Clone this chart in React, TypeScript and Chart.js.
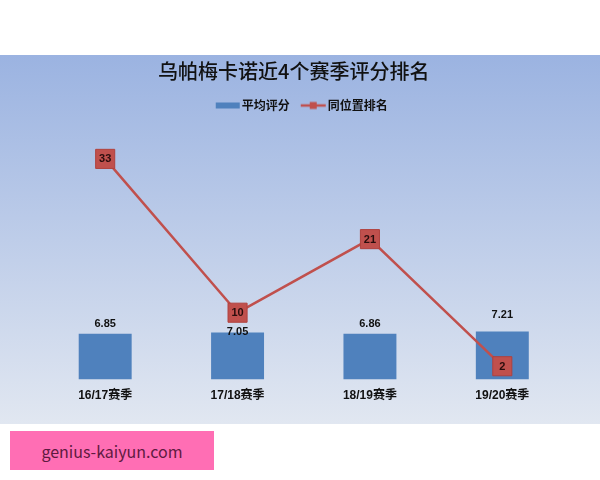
import { useEffect, useRef } from 'react';
import { Chart, registerables } from 'chart.js';

Chart.register(...registerables);

const seasons = ['16/17赛季', '17/18赛季', '18/19赛季', '19/20赛季'];
const avgRatings = [6.85, 7.05, 6.86, 7.21];
const positionRanks = [33, 10, 21, 2];
const seriesNames = ['平均评分', '同位置排名'];

const BAR_BLUE = '#4f81bd';
const LINE_RED = '#c0504d';
const LABEL_FONT = 'bold 11px "Liberation Sans", "Noto Sans CJK SC", sans-serif';

// how far above the bar top each rating label sits (the 2nd one was pushed down by the marker)
const barLabelLift = [10, 0, 10, 16];

function makeIcon(kind: 'bar' | 'line') {
  const c = document.createElement('canvas');
  c.width = 28;
  c.height = 12;
  const ctx = c.getContext('2d')!;
  if (kind === 'bar') {
    ctx.fillStyle = BAR_BLUE;
    ctx.fillRect(2, 3, 24, 6);
  } else {
    ctx.strokeStyle = LINE_RED;
    ctx.lineWidth = 2.5;
    ctx.beginPath();
    ctx.moveTo(1, 6);
    ctx.lineTo(26, 6);
    ctx.stroke();
    ctx.fillStyle = LINE_RED;
    ctx.fillRect(10, 2.5, 7, 7);
  }
  return c;
}

const valueLabels = {
  id: 'valueLabels',
  afterDatasetsDraw(chart: any) {
    const ctx = chart.ctx;
    ctx.save();
    ctx.textAlign = 'center';
    ctx.textBaseline = 'middle';
    ctx.font = LABEL_FONT;
    chart.data.datasets.forEach((ds: any, di: number) => {
      const meta = chart.getDatasetMeta(di);
      meta.data.forEach((el: any, i: number) => {
        const v = ds.data[i];
        if (meta.type === 'bar') {
          ctx.fillStyle = '#111';
          ctx.fillText(v.toFixed(2), el.x, el.y - barLabelLift[i]);
        } else {
          ctx.fillStyle = '#2a0d0d';
          ctx.fillText(String(v), el.x, el.y + 0.5);
        }
      });
    });
    ctx.restore();
  },
};

// leave room between legend and plot, like the Excel original,
// and nudge the title a little left (it was centred on the whole picture there)
const layoutTweaks = {
  id: 'layoutTweaks',
  beforeInit(chart: any) {
    const fit = chart.legend.fit;
    chart.legend.fit = function () {
      fit.bind(chart.legend)();
      this.height += 24;
    };
  },
  afterLayout(chart: any) {
    const t = chart.titleBlock;
    if (t) {
      t.left -= 10;
      t.right -= 10;
    }
  },
};

export default function App() {
  const chartRef = useRef<HTMLCanvasElement>(null);
  const chartInstance = useRef<Chart | null>(null);

  useEffect(() => {
    if (!chartRef.current) return;
    if (chartInstance.current) chartInstance.current.destroy();

    const barIcon = makeIcon('bar');
    const lineIcon = makeIcon('line');

    chartInstance.current = new Chart(chartRef.current, {
      type: 'bar',
      data: {
        labels: seasons,
        datasets: [
          {
            type: 'bar',
            label: seriesNames[0],
            data: avgRatings,
            backgroundColor: BAR_BLUE,
            borderWidth: 0,
            categoryPercentage: 1,
            barPercentage: 0.4,
            order: 1,
          },
          {
            type: 'line',
            label: seriesNames[1],
            data: positionRanks,
            borderColor: LINE_RED,
            borderWidth: 2.5,
            pointStyle: 'rect',
            pointRadius: 13.5,
            pointBackgroundColor: LINE_RED,
            pointBorderColor: '#b0413e',
            pointBorderWidth: 1,
            tension: 0,
            order: 0,
          } as any,
        ],
      },
      options: {
        responsive: false,
        animation: false,
        layout: { padding: { left: 39, right: 31.5, top: 0, bottom: 12 } },
        scales: {
          x: {
            offset: true,
            grid: { display: false, drawTicks: false },
            border: { display: false },
            ticks: {
              color: '#111',
              padding: 9,
              font: { family: '"Liberation Sans", "Noto Sans CJK SC", sans-serif', size: 12, weight: 'bold' },
            },
          },
          y: { display: false, min: 0, max: 35 },
        },
        plugins: {
          title: {
            display: true,
            text: '乌帕梅卡诺近4个赛季评分排名',
            color: '#111',
            font: { family: '"Noto Sans CJK SC", sans-serif', size: 20, weight: '500' },
            padding: { top: 4.5, bottom: 0 },
          },
          legend: {
            labels: {
              color: '#111',
              font: { family: '"Noto Sans CJK SC", sans-serif', size: 12, weight: 'bold' },
              usePointStyle: true,
              pointStyleWidth: 16,
              padding: 16,
              generateLabels: (chart: any) => {
                const items = Chart.defaults.plugins.legend.labels.generateLabels(chart);
                items.sort((a: any, b: any) => a.datasetIndex - b.datasetIndex);
                return items.map((it: any) => ({
                  ...it,
                  pointStyle: it.datasetIndex === 0 ? barIcon : lineIcon,
                }));
              },
            },
          },
          tooltip: { enabled: false },
        },
      },
      plugins: [valueLabels, layoutTweaks],
    });

    return () => {
      if (chartInstance.current) {
        chartInstance.current.destroy();
        chartInstance.current = null;
      }
    };
  }, []);

  return (
    <div style={{ position: 'fixed', left: 0, top: 0, width: 600, height: 480, background: '#fff' }}>
      <div
        style={{
          position: 'absolute',
          left: 0,
          top: 55,
          width: 600,
          height: 369,
          background: 'linear-gradient(to bottom, #9bb3e1, #e1e7f1)',
        }}
      >
        <canvas ref={chartRef} width={600} height={369} />
      </div>
      <div
        style={{
          position: 'absolute',
          left: 10,
          top: 431,
          width: 204,
          height: 39,
          background: '#ff6eb4',
          color: '#5e1a40',
          fontFamily: '"Noto Sans CJK SC", sans-serif',
          fontSize: 16,
          display: 'flex',
          alignItems: 'center',
          justifyContent: 'center',
        }}
      >
        genius-kaiyun.com
      </div>
    </div>
  );
}
